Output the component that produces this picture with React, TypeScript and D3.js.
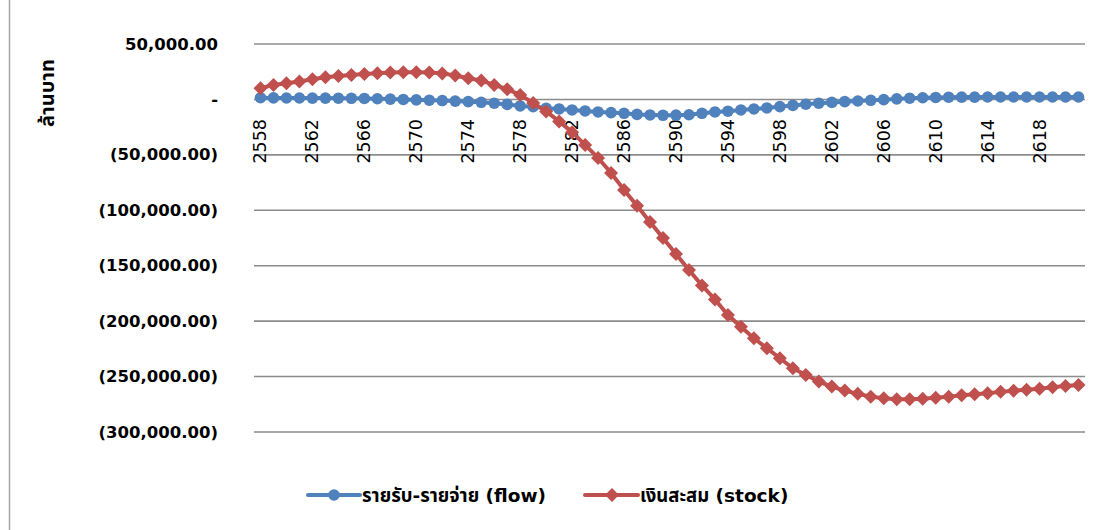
import React from "react";
import * as d3 from "d3";

// Fiscal years (Buddhist Era)
const years: number[] = d3.range(2558, 2622);

// Net flow: revenue minus expenditure (million baht)
const flowValues: number[] = [
  1500, 1400, 1300, 1300, 1200, 1200, 1100, 1000, 900, 600,
  300, 0, -400, -700, -1000, -1500, -2000, -2600, -3400, -4500,
  -5900, -6500, -7900, -8600, -9500, -10400, -11300, -11900, -12500, -13500,
  -14000, -14300, -14200, -13800, -12500, -11300, -10600, -9500, -8600, -7700,
  -6500, -5400, -4300, -3400, -2700, -2000, -1400, -800, -200, 500,
  1100, 1500, 1800, 2000, 2100, 2100, 2200, 2200, 2200, 2200,
  2200, 2200, 2200, 2200,
];

// Accumulated reserve (million baht)
const stockValues: number[] = [
  10100, 13100, 14600, 16100, 18200, 20000, 21200, 22100, 23000, 23600,
  24200, 24500, 24500, 24200, 23500, 21600, 19100, 17000, 13100, 9200,
  4100, -3200, -10800, -19800, -29500, -41000, -52800, -66300, -81600, -96000,
  -110500, -125000, -139400, -153800, -167800, -180400, -194400, -205000, -215400, -224400,
  -233500, -242500, -248500, -254500, -259000, -262600, -265600, -268100, -269500, -270400,
  -270400, -269900, -269000, -268100, -266800, -265900, -265000, -263800, -262700, -261800,
  -260900, -259600, -258400, -257500,
];

const yTicks: number[] = [50000, 0, -50000, -100000, -150000, -200000, -250000, -300000];
const seriesNames: string[] = ["รายรับ-รายจ่าย (flow)", "เงินสะสม (stock)"];
const yTitle = "ล้านบาท";

const W = 1102;
const H = 530;
const plot = { left: 254, right: 1085, top: 44, bottom: 432 };
const BLUE = "#4F81BD";
const RED = "#C0504D";
const GRID = "#8c8c8c";
const FONT = "'DejaVu Sans', 'Noto Sans Thai', 'Noto Sans', sans-serif";

const fmtNum = d3.format(",.2f");
function fmtTick(v: number): string {
  if (v === 0) return "-";
  if (v < 0) return `(${fmtNum(-v)})`;
  return fmtNum(v);
}

// diamond marker, half-diagonal r
function diamondPath(r: number): string {
  const p = d3.path();
  p.moveTo(0, -r);
  p.lineTo(r, 0);
  p.lineTo(0, r);
  p.lineTo(-r, 0);
  p.closePath();
  return p.toString();
}

export default function App() {
  const x = d3
    .scaleBand<number>()
    .domain(years)
    .range([plot.left, plot.right])
    .padding(0);
  const cx = (yr: number) => (x(yr) as number) + x.bandwidth() / 2;
  const y = d3.scaleLinear().domain([-300000, 50000]).range([plot.bottom, plot.top]);

  const line = d3
    .line<number>()
    .x((_, i) => cx(years[i]))
    .y((v) => y(v));

  const diamond = diamondPath(7);

  const legendY = 495;

  return (
    <svg
      width={W}
      height={H}
      style={{ position: "fixed", left: 0, top: 0, background: "#fff" }}
      fontFamily={FONT}
    >
      <rect x={0} y={0} width={W} height={H} fill="#fff" />
      <line x1={9.5} x2={9.5} y1={0} y2={H} stroke="#a6a6a6" strokeWidth={1.5} />

      {/* horizontal gridlines and value labels */}
      {yTicks.map((t) => (
        <g key={t}>
          <line
            x1={plot.left}
            x2={plot.right}
            y1={y(t)}
            y2={y(t)}
            stroke={GRID}
            strokeWidth={1.6}
          />
          <text
            x={218}
            y={y(t)}
            textAnchor="end"
            dominantBaseline="central"
            fontSize={16.5}
            fontWeight="bold"
            fill="#000"
          >
            {fmtTick(t)}
          </text>
        </g>
      ))}

      {/* axis title */}
      <text
        transform={`translate(47, 93) rotate(-90)`}
        textAnchor="middle"
        dominantBaseline="central"
        fontSize={20}
        fontWeight="bold"
        fill="#000"
      >
        {yTitle}
      </text>

      {/* category labels, every fourth year */}
      {years
        .filter((_, i) => i % 4 === 0)
        .map((yr) => (
          <text
            key={yr}
            transform={`translate(${cx(yr)}, 119) rotate(-90)`}
            textAnchor="end"
            dominantBaseline="central"
            fontSize={17.5}
            fill="#000"
          >
            {yr}
          </text>
        ))}

      {/* flow series */}
      <path d={line(flowValues) as string} fill="none" stroke={BLUE} strokeWidth={4} strokeLinejoin="round" />
      {flowValues.map((v, i) => (
        <circle key={i} cx={cx(years[i])} cy={y(v)} r={5.8} fill={BLUE} />
      ))}

      {/* stock series */}
      <path d={line(stockValues) as string} fill="none" stroke={RED} strokeWidth={4} strokeLinejoin="round" />
      {stockValues.map((v, i) => (
        <path key={i} d={diamond} transform={`translate(${cx(years[i])}, ${y(v)})`} fill={RED} />
      ))}

      {/* legend */}
      <g>
        <line x1={308} x2={360} y1={legendY} y2={legendY} stroke={BLUE} strokeWidth={4} strokeLinecap="round" />
        <circle cx={334} cy={legendY} r={5.8} fill={BLUE} />
        <text x={362} y={legendY} dominantBaseline="central" fontSize={18.5} fontWeight="bold" fill="#000">
          {seriesNames[0]}
        </text>
        <line x1={585} x2={638} y1={legendY} y2={legendY} stroke={RED} strokeWidth={4} strokeLinecap="round" />
        <path d={diamond} transform={`translate(612, ${legendY})`} fill={RED} />
        <text x={640} y={legendY} dominantBaseline="central" fontSize={18.5} fontWeight="bold" fill="#000">
          {seriesNames[1]}
        </text>
      </g>
    </svg>
  );
}
